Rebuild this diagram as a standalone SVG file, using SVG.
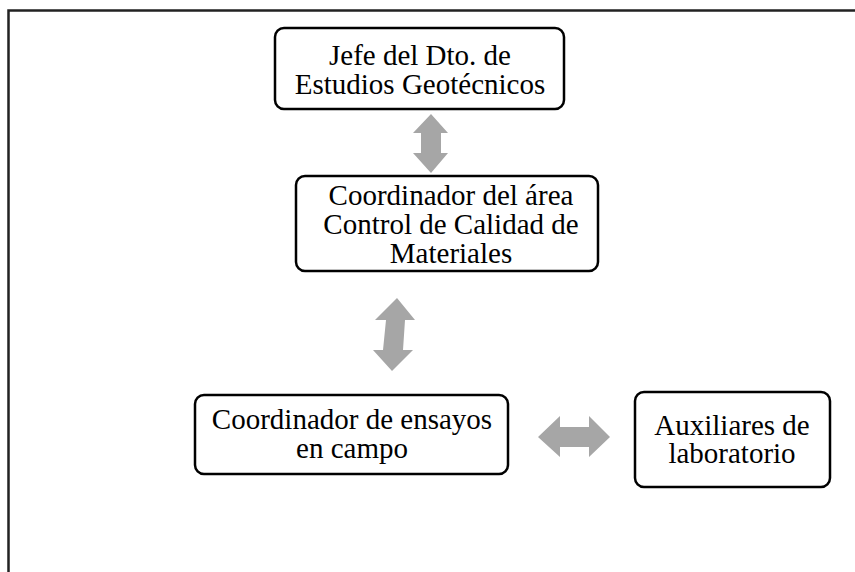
<svg xmlns="http://www.w3.org/2000/svg" width="855" height="572" viewBox="0 0 855 572">
<style>
.box{fill:#fff;stroke:#000;stroke-width:2.5}
.t{font-family:"Liberation Serif","Times New Roman",serif;font-size:29px;fill:#000;text-anchor:middle}
.arr{fill:#a6a6a6}
.frame{fill:none;stroke:#222;stroke-width:2.5}
</style>
<rect width="855" height="572" fill="#fff"/>
<path class="frame" d="M8.5,572 V10.5 H855"/>
<g id="connectors">
<polygon class="arr" points="431,114 448,133 441,133 441,153 448,153 431,173 413,153 421,153 421,133 413,133"/>
<polygon class="arr" points="397,298 415,320 405,320 403,350 413,350 392,371 373,350 383,350 386,320 375,320"/>
<polygon class="arr" points="538,437 560,416 560,427 589,427 589,416 610,437 589,457 589,447 560,447 560,457"/>
</g>
<g id="n1">
<rect class="box" x="275" y="28" width="289" height="81" rx="9"/>
<text class="t" x="420" y="65">Jefe del Dto. de</text>
<text class="t" x="420" y="94">Estudios Geotécnicos</text>
</g>
<g id="n2">
<rect class="box" x="296" y="176" width="302" height="95" rx="9"/>
<text class="t" x="451" y="205">Coordinador del área</text>
<text class="t" x="451" y="234">Control de Calidad de</text>
<text class="t" x="451" y="263">Materiales</text>
</g>
<g id="n3">
<rect class="box" x="195" y="395" width="313" height="79" rx="9"/>
<text class="t" x="352" y="429">Coordinador de ensayos</text>
<text class="t" x="352" y="458">en campo</text>
</g>
<g id="n4">
<rect class="box" x="635" y="392" width="195" height="95" rx="9"/>
<text class="t" x="732" y="435">Auxiliares de</text>
<text class="t" x="732" y="463">laboratorio</text>
</g>
</svg>
